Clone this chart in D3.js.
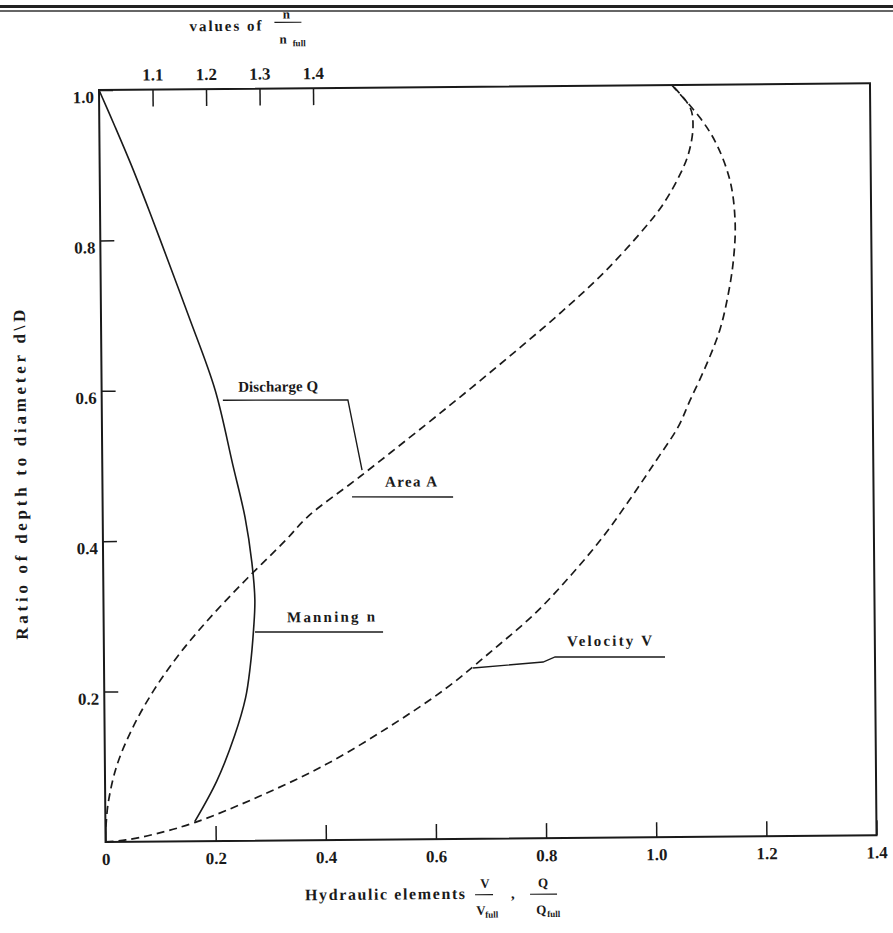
<!DOCTYPE html>
<html>
<head>
<meta charset="utf-8">
<script src="https://cdn.jsdelivr.net/npm/d3@7"></script>
<style>
  body { margin: 0; background: white; }
  text { font-family: "Liberation Serif", serif; fill: #1a1a1a; }
  .lbl { font-weight: bold; font-size: 15px; }
</style>
</head>
<body>
<div id="wykres"></div>
<script>

// values: d/D against the ratio
var depthN = [1.0, 0.95, 0.9, 0.85, 0.8, 0.7, 0.6, 0.5, 0.43, 0.37, 0.32, 0.28, 0.23, 0.19, 0.14, 0.08, 0.026];
var nRatio = [1.0, 1.03, 1.059, 1.086, 1.112, 1.163, 1.212, 1.244, 1.266, 1.278, 1.283, 1.28, 1.273, 1.264, 1.243, 1.209, 1.167];

var depthQ = [0.02, 0.05, 0.1, 0.15, 0.2, 0.25, 0.3, 0.35, 0.4, 0.43, 0.483, 0.55, 0.6, 0.65, 0.7, 0.75, 0.803, 0.84, 0.88, 0.91, 0.945, 0.97, 1.0];
var qRatio = [0.001, 0.005, 0.021, 0.05, 0.089, 0.138, 0.197, 0.263, 0.333, 0.372, 0.468, 0.586, 0.672, 0.756, 0.837, 0.912, 0.98, 1.021, 1.053, 1.07, 1.078, 1.073, 1.04];

var depthV = [0, 0.0025, 0.01, 0.025, 0.058, 0.1, 0.15, 0.2, 0.25, 0.3, 0.35, 0.4, 0.45, 0.5, 0.545, 0.58, 0.63, 0.675, 0.72, 0.765, 0.815, 0.87, 0.92, 0.955, 1.0];
var vRatio = [0, 0.037, 0.09, 0.163, 0.277, 0.40, 0.517, 0.62, 0.705, 0.785, 0.85, 0.908, 0.958, 1.005, 1.046, 1.068, 1.10, 1.124, 1.139, 1.149, 1.153, 1.145, 1.121, 1.092, 1.04];

var xTicks = [0, 0.2, 0.4, 0.6, 0.8, 1.0, 1.2, 1.4];
var yTicks = [0.2, 0.4, 0.6, 0.8, 1.0];
var nTicks = [1.1, 1.2, 1.3, 1.4];

var margin = { top: 90, left: 99 },
  width = 771,
  height = 752;

var svg = d3.select("#wykres")
  .append("svg")
  .attr("width", 893)
  .attr("height", 933)
  .style("background", "white");

// page border of the scan
svg.append("line").attr("x1", 0).attr("x2", 893).attr("y1", 6.5).attr("y2", 6.5)
  .attr("stroke", "#222").attr("stroke-width", 3);
svg.append("line").attr("x1", 0).attr("x2", 893).attr("y1", 11).attr("y2", 11)
  .attr("stroke", "#333").attr("stroke-width", 1.3);

// the scan sits a little skewed
var g = svg.append("g")
  .attr("transform", "rotate(-0.5," + margin.left + "," + margin.top + ") translate(" + margin.left + "," + margin.top + ")");

var xscale = d3.scaleLinear().domain([0, 1.4]).range([0, width]);
var yscale = d3.scaleLinear().domain([0, 1]).range([height, 0]);
var nscale = d3.scaleLinear().domain([1.0, 1.4]).range([0, 214]);

var fmt = function (d) { return d === 0 ? "0" : d3.format(".1f")(d); };

var xAxis = g.append("g")
  .attr("transform", "translate(0," + height + ")")
  .call(d3.axisBottom(xscale).tickValues(xTicks).tickSize(-15).tickSizeOuter(0).tickPadding(11).tickFormat(fmt));

var yAxis = g.append("g")
  .call(d3.axisLeft(yscale).tickValues(yTicks).tickSize(-14).tickSizeOuter(0).tickPadding(5).tickFormat(fmt));
yAxis.selectAll("text").attr("y", 7);

var nAxis = g.append("g")
  .call(d3.axisTop(nscale).tickValues(nTicks).tickSize(-17).tickSizeOuter(0).tickPadding(9).tickFormat(d3.format(".1f")));

[xAxis, yAxis, nAxis].forEach(function (a) {
  a.attr("font-family", "Liberation Serif").attr("font-size", 17).attr("font-weight", "bold").style("color", "#1a1a1a");
  a.select(".domain").remove();
  a.selectAll("line").attr("stroke-width", 1.5);
});

g.append("rect")
  .attr("width", width)
  .attr("height", height)
  .attr("fill", "none")
  .attr("stroke", "#1a1a1a")
  .attr("stroke-width", 2);

var line = d3.line().curve(d3.curveCatmullRom.alpha(0.5));

// Manning n, read on the top scale
g.append("path")
  .datum(d3.zip(depthN, nRatio))
  .attr("fill", "none").attr("stroke", "#1a1a1a").attr("stroke-width", 1.6)
  .attr("d", line.x(function (d) { return nscale(d[1]); }).y(function (d) { return yscale(d[0]); }));

// discharge Q
g.append("path")
  .datum(d3.zip(depthQ, qRatio))
  .attr("fill", "none").attr("stroke", "#1a1a1a").attr("stroke-width", 1.7).attr("stroke-dasharray", "8,5")
  .attr("d", line.x(function (d) { return xscale(d[1]); }).y(function (d) { return yscale(d[0]); }));

// velocity V
g.append("path")
  .datum(d3.zip(depthV, vRatio))
  .attr("fill", "none").attr("stroke", "#1a1a1a").attr("stroke-width", 1.7).attr("stroke-dasharray", "8,5")
  .attr("d", line.x(function (d) { return xscale(d[1]); }).y(function (d) { return yscale(d[0]); }));

// labels with their leaders, placed in data units
var leader = d3.line().x(function (d) { return xscale(d[0]); }).y(function (d) { return yscale(d[1]); });

function label(txt, x, y, len) {
  g.append("text").attr("class", "lbl")
    .attr("x", xscale(x)).attr("y", yscale(y))
    .attr("textLength", len).attr("lengthAdjust", "spacing")
    .text(txt);
}
function lead(pts) {
  g.append("path").datum(pts).attr("fill", "none").attr("stroke", "#1a1a1a").attr("stroke-width", 1.4).attr("d", leader);
}

label("Discharge Q", 0.248, 0.597, 80);
lead([[0.220, 0.586], [0.447, 0.585], [0.4716, 0.4916]]);

label("Area A", 0.513, 0.469, 52);
lead([[0.453, 0.456], [0.6365, 0.4547]]);

label("Manning n", 0.333, 0.290, 88);
lead([[0.2747, 0.2775], [0.5072, 0.2759]]);

label("Velocity V", 0.841, 0.255, 85);
lead([[0.670, 0.2271], [0.7973, 0.2342], [0.8191, 0.2408], [1.0188, 0.2395]]);

// axis titles
g.append("text").attr("x", 91).attr("y", -58).attr("font-size", 15).attr("font-weight", "bold")
  .attr("textLength", 72).attr("lengthAdjust", "spacing").text("values of");
g.append("text").attr("x", 188).attr("y", -70).attr("font-size", 13).attr("font-weight", "bold").attr("text-anchor", "middle").text("n");
g.append("line").attr("x1", 176).attr("x2", 203).attr("y1", -66).attr("y2", -66).attr("stroke", "#1a1a1a").attr("stroke-width", 1.2);
g.append("text").attr("x", 181).attr("y", -45).attr("font-size", 13).attr("font-weight", "bold").text("n");
g.append("text").attr("x", 194).attr("y", -42).attr("font-size", 9).attr("font-weight", "bold").text("full");

g.append("text").attr("x", 199).attr("y", 812).attr("font-size", 16).attr("font-weight", "bold")
  .attr("textLength", 160).attr("lengthAdjust", "spacing").text("Hydraulic elements");
g.append("text").attr("x", 379).attr("y", 801).attr("font-size", 13).attr("font-weight", "bold").attr("text-anchor", "middle").text("V");
g.append("line").attr("x1", 369).attr("x2", 387).attr("y1", 808).attr("y2", 808).attr("stroke", "#1a1a1a").attr("stroke-width", 1.2);
g.append("text").attr("x", 370).attr("y", 828).attr("font-size", 13).attr("font-weight", "bold").text("V");
g.append("text").attr("x", 379).attr("y", 831).attr("font-size", 9).attr("font-weight", "bold").text("full");
g.append("text").attr("x", 405).attr("y", 812).attr("font-size", 15).attr("font-weight", "bold").text(",");
g.append("text").attr("x", 437).attr("y", 801).attr("font-size", 13).attr("font-weight", "bold").attr("text-anchor", "middle").text("Q");
g.append("line").attr("x1", 424).attr("x2", 451).attr("y1", 808).attr("y2", 808).attr("stroke", "#1a1a1a").attr("stroke-width", 1.2);
g.append("text").attr("x", 430).attr("y", 828).attr("font-size", 13).attr("font-weight", "bold").text("Q");
g.append("text").attr("x", 441).attr("y", 831).attr("font-size", 9).attr("font-weight", "bold").text("full");

g.append("text")
  .attr("transform", "translate(-76," + (height / 2 + 8) + ") rotate(-90)")
  .attr("text-anchor", "middle")
  .attr("font-size", 17).attr("font-weight", "bold")
  .attr("textLength", 330).attr("lengthAdjust", "spacing")
  .text("Ratio of depth to diameter d\\D");

</script>
</body>
</html>
